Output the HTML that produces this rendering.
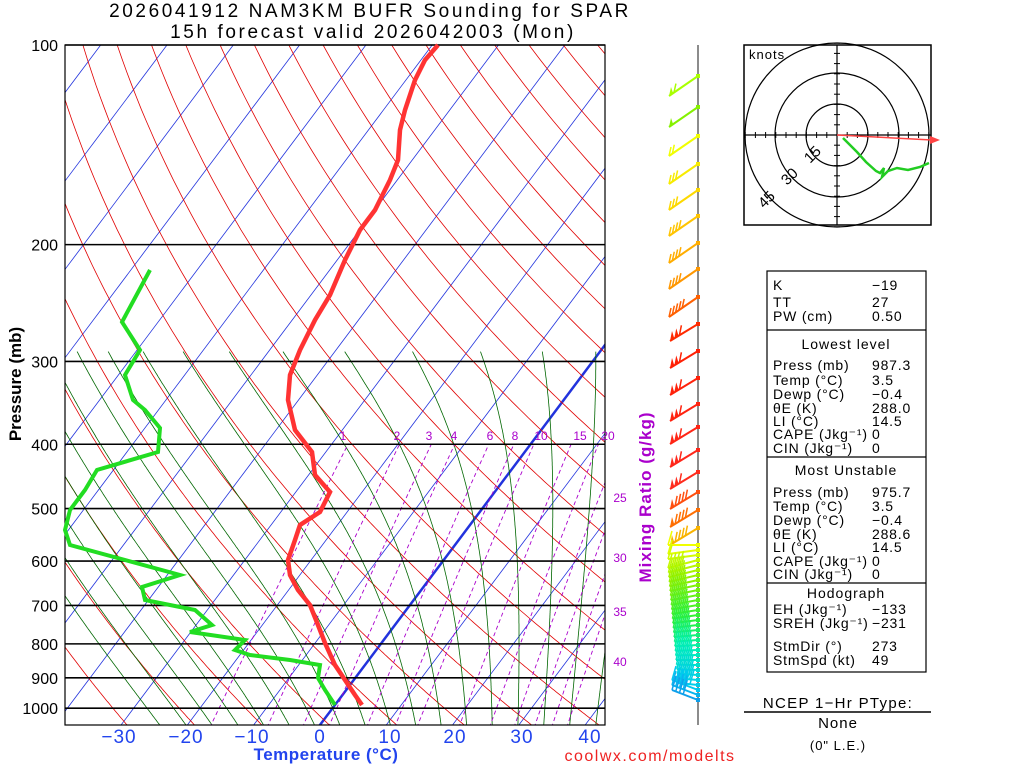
<!DOCTYPE html>
<html><head><meta charset="utf-8"><style>
html,body{margin:0;padding:0;background:#fff;}
svg{display:block;font-family:"Liberation Sans",sans-serif;}
</style></head><body>
<svg id="s" width="1024" height="768" xmlns="http://www.w3.org/2000/svg">
<defs><clipPath id="c"><rect x="65" y="45" width="540" height="680"/></clipPath></defs>
<g id="bg" clip-path="url(#c)"></g>
<g id="fg"></g>
</svg>
<script>
const NS="http://www.w3.org/2000/svg";
const bg=document.getElementById('bg'),fg=document.getElementById('fg');
function el(p,t,a,txt){const e=document.createElementNS(NS,t);for(const k in a)e.setAttribute(k,a[k]);if(txt!==undefined)e.textContent=txt;p.appendChild(e);return e;}
const Y=p=>45+288*Math.log(p/100);
const X=(T,p)=>320+6.63*T+0.75*(725-Y(p));
function pl(g,pts,st,w,dash){el(g,'polyline',{points:pts.map(q=>q[0].toFixed(1)+','+q[1].toFixed(1)).join(' '),fill:'none',stroke:st,'stroke-width':w||1,'stroke-dasharray':dash||'none'});}
const P=[];for(let p=1070;p>=95;p-=5)P.push(p);
for(let T=-160;T<=50;T+=10){pl(bg,[[X(T,1070),Y(1070)],[X(T,95),Y(95)]],'#2233dd',T==0?2.5:0.8);}
for(let th=220;th<=600;th+=10){pl(bg,P.map(p=>[X(th*Math.pow(p/1000,0.286)-273.15,p),Y(p)]),'#e00000',0.8);}
function es(T){return 6.112*Math.exp(17.67*T/(T+243.5));}
function step(T,p,dp){const Tk=T+273.15,e=es(T),ws=0.622*e/(p-e),L=2.5e6,Rd=287,cp=1004;
 const d=(Rd*Tk+L*ws)/(p*(cp+L*L*ws*0.622/(Rd*Tk*Tk)));return T+d*dp;}
for(let T0=-28;T0<=40;T0+=4){let Tb=T0;for(let q=1000;q<1070;q+=1){Tb=step(Tb,q,1);}
 let T=Tb,pts=[];for(let p=1070;p>=290;p-=2){pts.push([X(T,p),Y(p)]);T=step(T,p,-2);}
 pl(bg,pts,'#006600',0.8);}
const W=[1,2,3,4,6,8,10,15,20,25,30,35,40];
function Tw(w,p){const e=w*p/(622+w),l=Math.log(e/6.112);return 243.5*l/(17.67-l);}
W.forEach(w=>{const pts=[];for(let p=1070;p>=400;p-=10)pts.push([X(Tw(w,p),p),Y(p)]);pl(bg,pts,'#aa00cc',0.9,'4,3');});
[100,200,300,400,500,600,700,800,900,1000].forEach(p=>{el(fg,'line',{x1:65,x2:605,y1:Y(p),y2:Y(p),stroke:'#000','stroke-width':1.6});
 el(fg,'text',{x:58,y:Y(p)+6,'text-anchor':'end','font-size':16},p);});
el(fg,'rect',{x:65,y:45,width:540,height:680,fill:'none',stroke:'#000','stroke-width':1.2});
const Tp=[[362,705],[355,695],[345,680],[335,665],[325,643],[318,625],[310,605],[298,590],[290,575],[288,560],[295,540],[300,525],[320,512],[330,492],[315,475],[312,452],[295,430],[288,400],[290,375],[300,350],[315,320],[330,295],[345,260],[360,230],[375,210],[390,180],[398,160],[400,130],[405,110],[415,80],[425,60],[438,45]];
const Td=[[335,705],[325,690],[318,678],[320,665],[290,660],[250,655],[235,650],[245,640],[190,632],[212,625],[195,610],[145,600],[142,587],[180,575],[70,545],[65,530],[70,510],[85,490],[97,470],[158,452],[160,428],[145,410],[133,400],[125,375],[140,350],[122,322],[150,270]];
pl(fg,Tp,'#ff3333',4.5);pl(fg,Td,'#22dd22',4);
[[1,343],[2,397],[3,429],[4,454],[6,490],[8,515],[10,541],[15,580],[20,608]].forEach(a=>el(fg,'text',{x:a[1],y:440,'text-anchor':'middle','font-size':12,fill:'#aa00cc'},a[0]));
[[25,498],[30,558],[35,612],[40,662]].forEach(a=>el(fg,'text',{x:620,y:a[1]+4,'text-anchor':'middle','font-size':12,fill:'#aa00cc'},a[0]));
[[-30,125],[-20,192],[-10,258],[0,320],[10,390],[20,455],[30,522],[40,590]].forEach(a=>el(fg,'text',{x:a[1]-(a[0]<0?6:0),y:743,'text-anchor':'middle','font-size':19,fill:'#2244ee','letter-spacing':1},a[0]<0?'\u2212'+(-a[0]):a[0]));
el(fg,'text',{x:326,y:760,'text-anchor':'middle','font-size':17,'font-weight':'bold',fill:'#2244ee','letter-spacing':0.5},'Temperature (°C)');
el(fg,'text',{x:0,y:0,'text-anchor':'middle','font-size':17,'font-weight':'bold',transform:'translate(21,384) rotate(-90)'},'Pressure (mb)');
el(fg,'text',{x:0,y:0,'text-anchor':'middle','font-size':17,'font-weight':'bold',fill:'#aa00cc','letter-spacing':1,transform:'translate(651,497) rotate(-90)'},'Mixing Ratio (g/kg)');
el(fg,'text',{x:370,y:17,'text-anchor':'middle','font-size':19,'letter-spacing':2.6},'2026041912 NAM3KM BUFR Sounding for SPAR');
el(fg,'text',{x:373,y:38,'text-anchor':'middle','font-size':19,'letter-spacing':2.6},'15h forecast valid 2026042003 (Mon)');
el(fg,'text',{x:650,y:761,'text-anchor':'middle','font-size':16,fill:'#ee2222','letter-spacing':1.5},'coolwx.com/modelts');
// wind barbs
el(fg,'line',{x1:698,x2:698,y1:45,y2:725,stroke:'#666','stroke-width':1.5});
function col(y){const stops=[[75,[170,255,0]],[110,[130,240,0]],[135,[240,255,0]],[200,[255,210,0]],[270,[255,150,0]],[300,[255,90,0]],[330,[255,30,0]],[470,[255,40,30]],[515,[255,120,0]],[545,[240,255,0]],[580,[140,240,0]],[620,[40,240,60]],[650,[0,240,180]],[690,[0,200,240]],[710,[30,120,230]]];
 if(y<=stops[0][0])return 'rgb('+stops[0][1]+')';for(let i=1;i<stops.length;i++){if(y<=stops[i][0]){const a=stops[i-1],b=stops[i],f=(y-a[0])/(b[0]-a[0]);return 'rgb('+a[1].map((v,j)=>Math.round(v+(b[1][j]-v)*f))+')';}}return 'rgb('+stops[stops.length-1][1]+')';}
function barb(y,ex,ey,flags,nb,c,bv){
 el(fg,'line',{x1:698,y1:y,x2:ex,y2:ey,stroke:c,'stroke-width':2});
 const L=Math.hypot(698-ex,y-ey),ux=(698-ex)/L,uy=(y-ey)/L;let s=0;
 for(let i=0;i<flags;i++){const ax=ex+ux*s,ay=ey+uy*s,bx=ex+ux*(s+5),by=ey+uy*(s+5);
  el(fg,'polygon',{points:`${ax},${ay} ${bx},${by} ${ax+bv[0]},${ay+bv[1]}`,fill:c});s+=5;}
 if(flags)s+=1;
 for(let i=0;i<nb;i++){const ax=ex+ux*s,ay=ey+uy*s;el(fg,'line',{x1:ax,y1:ay,x2:ax+bv[0],y2:ay+bv[1],stroke:c,'stroke-width':1.5});s+=4;}
 el(fg,'rect',{x:696,y:y-2,width:4,height:4,fill:c});}
[[76,1,1],[107,1,0],[136,0,2],[164,0,3],[190,0,3],[216,0,4],[243,0,4],[269,0,4],[297,0,5]].forEach(a=>barb(a[0],669,a[0]+20,a[1],a[2],col(a[0]),[2,-9]));
[324,351,378,404,427,450,472].forEach(y=>barb(y,670,y+17,2,1,col(y),[2,-10]));
[492,510,528].forEach(y=>barb(y,670,y+17,1,4,col(y),[2,-10]));
for(let y=545;y<=700;y+=5){const c=col(y);let ex,ey;
 if(y<560){ex=668;ey=y+(y==545?0:4);}else if(y<690){ex=668+(y-560)*0.08;ey=y+8-(y-560)*0.08;}else{ex=672;ey=y-10;}
 barb(y,ex,ey,0,y<560?1:4,c,[4,-14]);}
// hodograph
const hx=837,hy=135;
el(fg,'rect',{x:744,y:45,width:187,height:180,fill:'none',stroke:'#000','stroke-width':1.5});
[31,62,92].forEach(r=>el(fg,'circle',{cx:hx,cy:hy,r:r,fill:'none',stroke:'#000','stroke-width':1.2}));
el(fg,'line',{x1:744,x2:931,y1:hy,y2:hy,stroke:'#000','stroke-width':1.2});
el(fg,'line',{x1:hx,x2:hx,y1:45,y2:225,stroke:'#000','stroke-width':1.2});
for(let k=-9;k<=9;k++){if(!k)continue;const d=k*10.2;el(fg,'line',{x1:hx+d,x2:hx+d,y1:hy-3,y2:hy+3,stroke:'#000'});el(fg,'line',{x1:hx-3,x2:hx+3,y1:hy+d,y2:hy+d,stroke:'#000'});}
el(fg,'text',{x:749,y:59,'font-size':13,'letter-spacing':1},'knots');
[['15',816,158],['30',793,180],['45',770,203]].forEach(a=>el(fg,'text',{x:0,y:0,'font-size':15,transform:`translate(${a[1]},${a[2]}) rotate(-45)`,'text-anchor':'middle'},a[0]));
el(fg,'line',{x1:hx,y1:hy,x2:932,y2:140,stroke:'#ff4444','stroke-width':1.5});
el(fg,'polygon',{points:'940,140 930,136 930,144',fill:'#ff4444'});
pl(fg,[[843,138],[857,152],[866,162],[876,171],[880,173],[884,168],[882,177],[888,171],[897,168],[908,170],[920,167],[929,163]],'#22cc22',2.5);
// index box
el(fg,'rect',{x:767,y:271,width:159,height:401,fill:'none',stroke:'#000','stroke-width':1.2});
[330,457,583].forEach(y=>el(fg,'line',{x1:767,x2:926,y1:y,y2:y,stroke:'#000','stroke-width':1.2}));
const rows=[['K','\u221219',285],['TT','27',302],['PW (cm)','0.50',316],
['Press (mb)','987.3',365],['Temp (°C)','3.5',380],['Dewp (°C)','\u22120.4',394],['θE (K)','288.0',408],['LI (°C)','14.5',421],['CAPE (Jkg⁻¹)','0',434],['CIN (Jkg⁻¹)','0',448],
['Press (mb)','975.7',492],['Temp (°C)','3.5',506],['Dewp (°C)','\u22120.4',520],['θE (K)','288.6',534],['LI (°C)','14.5',547],['CAPE (Jkg⁻¹)','0',561],['CIN (Jkg⁻¹)','0',574],
['EH (Jkg⁻¹)','\u2212133',609],['SREH (Jkg⁻¹)','\u2212231',623],['StmDir (°)','273',646],['StmSpd (kt)','49',660]];
rows.forEach(r=>{el(fg,'text',{x:773,y:r[2]+5,'font-size':14,'letter-spacing':0.8},r[0]);el(fg,'text',{x:872,y:r[2]+5,'font-size':14,'letter-spacing':0.8},r[1]);});
[['Lowest level',344],['Most Unstable',470],['Hodograph',593]].forEach(a=>el(fg,'text',{x:846,y:a[1]+5,'text-anchor':'middle','font-size':14,'letter-spacing':1},a[0]));
el(fg,'text',{x:838,y:708,'text-anchor':'middle','font-size':15,'letter-spacing':1.3},'NCEP 1\u2212Hr PType:');
el(fg,'line',{x1:744,x2:931,y1:712,y2:712,stroke:'#000','stroke-width':1.5});
el(fg,'text',{x:838,y:728,'text-anchor':'middle','font-size':15,'letter-spacing':1},'None');
el(fg,'text',{x:838,y:750,'text-anchor':'middle','font-size':13,'letter-spacing':1},'(0" L.E.)');
</script>
</body></html>
